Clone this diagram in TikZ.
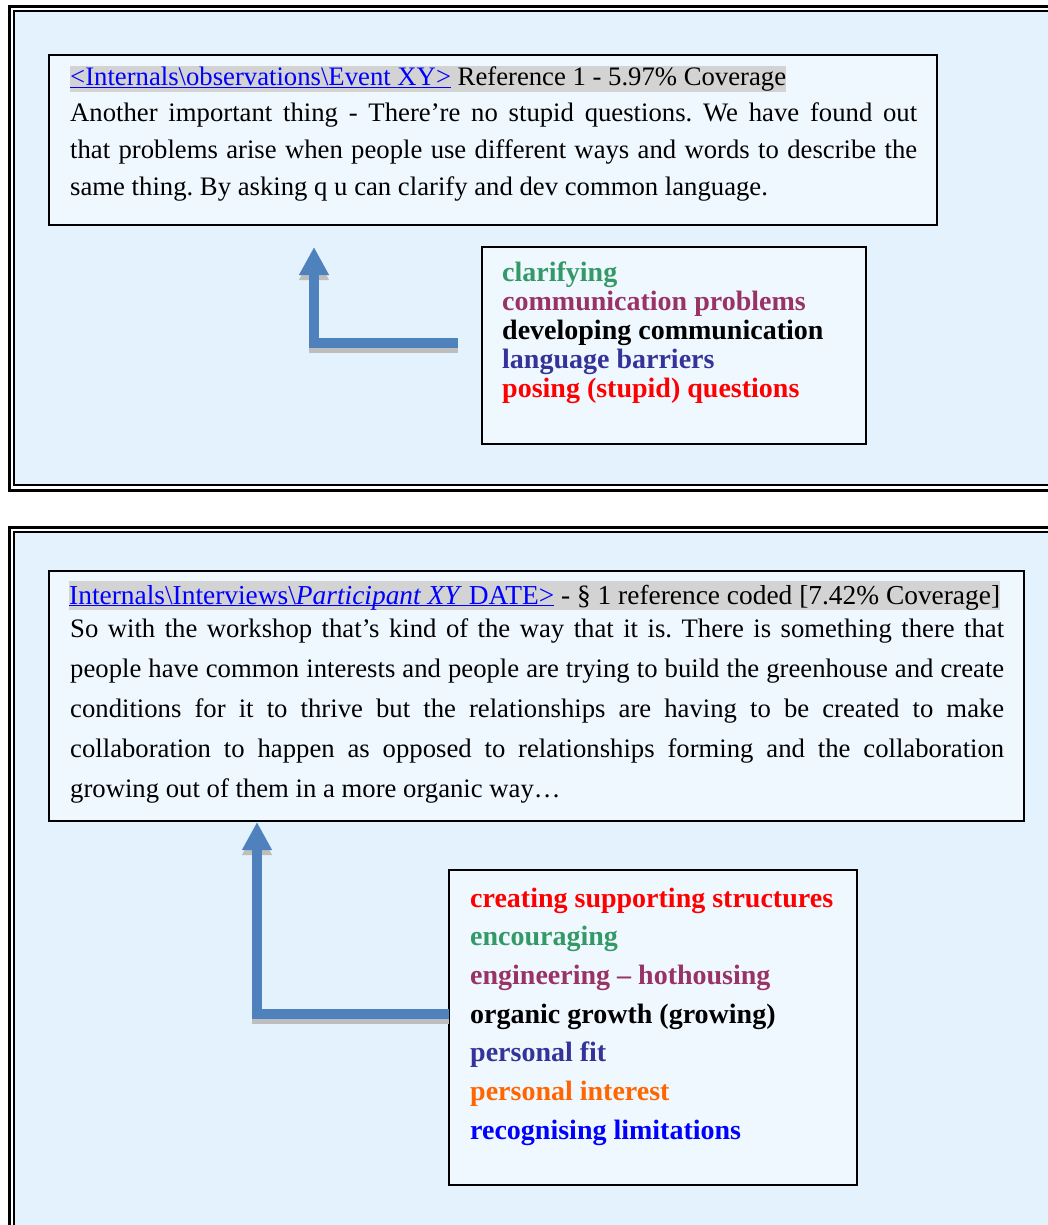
\documentclass[tikz,border=0pt]{standalone}
\usepackage{fontspec}
\setmainfont{Liberation Serif}
\usetikzlibrary{arrows.meta}

\definecolor{panelbg}{RGB}{227,242,253}
\definecolor{boxbg}{RGB}{240,248,255}
\definecolor{hl}{RGB}{211,211,211}
\definecolor{link}{RGB}{0,0,255}
\definecolor{kgreen}{RGB}{51,153,102}
\definecolor{kplum}{RGB}{153,51,102}
\definecolor{kindigo}{RGB}{51,51,153}
\definecolor{kred}{RGB}{255,0,0}
\definecolor{korange}{RGB}{255,102,0}
\definecolor{kblue}{RGB}{0,0,255}
\definecolor{arrowblue}{RGB}{79,129,189}
\definecolor{shadowgray}{RGB}{190,190,190}

% underlined hyperlink-like text
\newsavebox\ulbox
\newcommand\ulink[1]{\sbox\ulbox{#1}\rlap{\rule[-2.2pt]{\wd\ulbox}{1.3pt}}\usebox\ulbox}
\setlength{\fboxsep}{0pt}
\frenchspacing

\tikzset{
  x=1pt, y=-1pt,
  textbox/.style={draw=black, line width=2pt, fill=boxbg},
  codebox/.style={draw=black, line width=2pt, fill=boxbg},
  bodyline/.style={anchor=base west, inner sep=0pt, font=\fontsize{26.7}{37}\selectfont},
  headline/.style={anchor=base west, inner sep=0pt, font=\fontsize{27.4}{37}\selectfont},
  codeline/.style={anchor=base west, inner sep=0pt, font=\fontsize{28}{29}\selectfont\bfseries},
  linkarrow/.style={line width=10pt, draw=arrowblue, -{Triangle[length=28pt,width=28pt]}},
  linkshade/.style={line width=10pt, draw=shadowgray, -{Triangle[length=28pt,width=28pt]}, transform canvas={yshift=-5pt}},
}

\begin{document}
\begin{tikzpicture}
\useasboundingbox (0,0) rectangle (1048,1225);
\clip (0,0) rectangle (1048,1225);
\fill[white] (0,0) rectangle (1048,1225);

% ---------- upper panel ----------
\draw[line width=3pt] (9.5,6.2) rectangle (1070,490.5);
\filldraw[fill=panelbg, line width=2.5pt] (14.2,11.2) rectangle (1070,485.2);

\path[textbox] (49,55) rectangle (937,225);
\node[bodyline] (h1) at (70,86) {\colorbox{hl}{\rule[-2.5pt]{0pt}{22pt}\textcolor{link}{\ulink{<Internals\textbackslash observations\textbackslash Event XY>}} Reference 1 - 5.97\% Coverage}};
\node[bodyline] (p1a) at (70,122) {\makebox[847pt][s]{Another important thing - There’re no stupid questions. We have found out}};
\node[bodyline] (p1b) at (70,159) {\makebox[847pt][s]{that problems arise when people use different ways and words to describe the}};
\node[bodyline] (p1c) at (70,196) {same thing. By asking q u can clarify and dev common language.};

\path[codebox] (482,247) rectangle (866,444);
\node[codeline, text=kgreen]  (c1a) at (502,281) {clarifying};
\node[codeline, text=kplum]   (c1b) at (502,310) {communication problems};
\node[codeline, text=black]   (c1c) at (502,339) {developing communication};
\node[codeline, text=kindigo] (c1d) at (502,368) {language barriers};
\node[codeline, text=kred]    (c1e) at (502,397) {posing (stupid) questions};

\coordinate (a1s) at (458,342.5);
\coordinate (a1t) at (314,247);
\draw[linkshade] (a1s) -| (a1t);
\draw[linkarrow] (a1s) -| (a1t);

% ---------- lower panel ----------
\draw[line width=3pt] (9.5,527.2) rectangle (1070,1260);
\filldraw[fill=panelbg, line width=2.5pt] (14.2,532) rectangle (1070,1255);

\path[textbox] (49,571) rectangle (1024,821);
\node[headline] (h2) at (69,604) {\colorbox{hl}{\rule[-4pt]{0pt}{27pt}\textcolor{link}{\ulink{Internals\textbackslash Interviews\textbackslash\textit{Participant XY} DATE>}} - § 1 reference coded [7.42\% Coverage]}};
\node[bodyline] (p2a) at (70,637) {\makebox[934pt][s]{So with the workshop that’s kind of the way that it is. There is something there that}};
\node[bodyline] (p2b) at (70,677) {\makebox[934pt][s]{people have common interests and people are trying to build the greenhouse and create}};
\node[bodyline] (p2c) at (70,717) {\makebox[934pt][s]{conditions for it to thrive but the relationships are having to be created to make}};
\node[bodyline] (p2d) at (70,757) {\makebox[934pt][s]{collaboration to happen as opposed to relationships forming and the collaboration}};
\node[bodyline] (p2e) at (70,797) {growing out of them in a more organic way…};

\path[codebox] (449,870) rectangle (857,1185);
\node[codeline, text=kred]    (c2a) at (470,907)    {creating supporting structures};
\node[codeline, text=kgreen]  (c2b) at (470,945.7)  {encouraging};
\node[codeline, text=kplum]   (c2c) at (470,984.4)  {engineering – hothousing};
\node[codeline, text=black]   (c2d) at (470,1023.1) {organic growth (growing)};
\node[codeline, text=kindigo] (c2e) at (470,1061.8) {personal fit};
\node[codeline, text=korange] (c2f) at (470,1100.5) {personal interest};
\node[codeline, text=kblue]   (c2g) at (470,1139.2) {recognising limitations};

\coordinate (a2s) at (449,1013.5);
\coordinate (a2t) at (257,822);
\draw[linkshade] (a2s) -| (a2t);
\draw[linkarrow] (a2s) -| (a2t);
\end{tikzpicture}
\end{document}
